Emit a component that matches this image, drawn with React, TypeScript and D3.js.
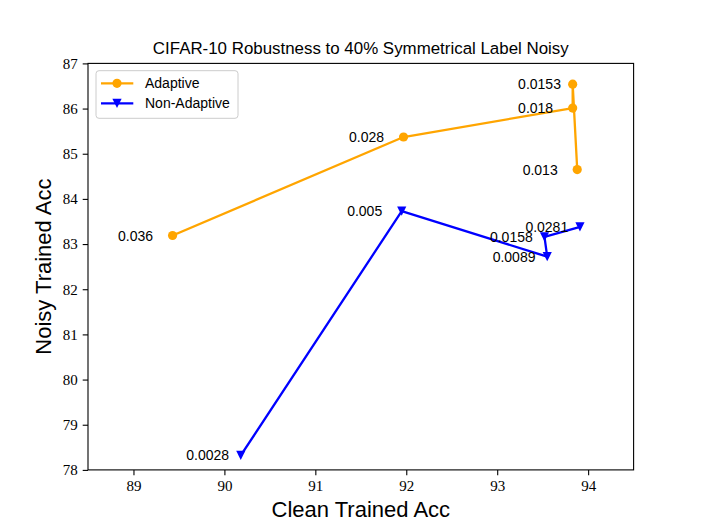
import { useEffect, useRef } from "react";
import * as d3 from "d3";

// Adaptive series
const adaptiveX: number[] = [89.43, 91.97, 93.83, 93.83, 93.88];
const adaptiveY: number[] = [83.19, 85.37, 86.01, 86.54, 84.65];
const adaptiveLabels: string[] = ["0.036", "0.028", "0.018", "0.0153", "0.013"];

// Non-Adaptive series
const nonAdaptiveX: number[] = [90.18, 91.95, 93.55, 93.52, 93.91];
const nonAdaptiveY: number[] = [78.32, 83.73, 82.72, 83.16, 83.38];
const nonAdaptiveLabels: string[] = ["0.0028", "0.005", "0.0089", "0.0158", "0.0281"];

const xTicks: number[] = [89, 90, 91, 92, 93, 94];
const yTicks: number[] = [78, 79, 80, 81, 82, 83, 84, 85, 86, 87];

function App() {
  const svgRef = useRef<SVGSVGElement>(null);

  useEffect(() => {
    if (!svgRef.current) return;
    const svg = d3.select(svgRef.current);
    svg.selectAll("*").remove();

    const width = 704;
    const height = 528;
    svg.attr("width", width).attr("height", height);

    const margin = { top: 63.4, left: 88, right: 70.4, bottom: 58.1 };
    const innerWidth = width - margin.left - margin.right;
    const innerHeight = height - margin.top - margin.bottom;

    const x = d3.scaleLinear().domain([88.5, 94.5]).range([0, innerWidth]);
    const y = d3.scaleLinear().domain([78, 87]).range([innerHeight, 0]);

    svg.append("rect").attr("width", width).attr("height", height).attr("fill", "white");

    const g = svg.append("g").attr("transform", `translate(${margin.left},${margin.top})`);

    const sans = "'Liberation Sans', Arial, sans-serif";
    const serif = "'Liberation Serif', 'Times New Roman', serif";

    // axes
    const xAxis = g
      .append("g")
      .attr("transform", `translate(0,${innerHeight})`)
      .call(d3.axisBottom(x).tickValues(xTicks).tickSize(5.3).tickPadding(5).tickSizeOuter(0).tickFormat(d3.format("d")));
    const yAxis = g
      .append("g")
      .call(d3.axisLeft(y).tickValues(yTicks).tickSize(5.3).tickPadding(5).tickSizeOuter(0).tickFormat(d3.format("d")));
    [xAxis, yAxis].forEach((a) => {
      a.select(".domain").remove();
      a.selectAll("line").attr("stroke", "black").attr("stroke-width", 1.1);
      a.selectAll("text").attr("font-family", serif).attr("font-size", 15).attr("fill", "black");
    });

    // series
    const series = [
      { name: "Adaptive", xs: adaptiveX, ys: adaptiveY, labels: adaptiveLabels, color: "orange", marker: "circle" },
      { name: "Non-Adaptive", xs: nonAdaptiveX, ys: nonAdaptiveY, labels: nonAdaptiveLabels, color: "blue", marker: "tri" },
    ];

    // downward triangle marker
    const tri = (cx: number, cy: number, s: number) =>
      `M${cx},${cy + s}L${cx - s},${cy - s}L${cx + s},${cy - s}Z`;

    const drawMarker = (sel: any, kind: string, cx: number, cy: number, color: string) => {
      if (kind === "circle") {
        sel.append("circle").attr("cx", cx).attr("cy", cy).attr("r", 4.6).attr("fill", color);
      } else {
        sel.append("path").attr("d", tri(cx, cy, 4.6)).attr("fill", color);
      }
    };

    series.forEach((s) => {
      const pts = s.xs.map((v, i) => [x(v), y(s.ys[i])] as [number, number]);
      g.append("path")
        .attr("d", d3.line()(pts))
        .attr("fill", "none")
        .attr("stroke", s.color)
        .attr("stroke-width", 2.3)
        .attr("stroke-linejoin", "round")
        .attr("stroke-linecap", "square");
      const mg = g.append("g");
      pts.forEach(([px, py]) => drawMarker(mg, s.marker, px, py, s.color));
      g.selectAll(null)
        .data(s.labels)
        .join("text")
        .attr("x", (_, i) => x(s.xs[i] - 0.6))
        .attr("y", (_, i) => y(s.ys[i]))
        .attr("dy", "0.36em")
        .attr("font-family", sans)
        .attr("font-size", 14)
        .attr("fill", "black")
        .text((d) => d);
    });

    // spines
    g.append("rect")
      .attr("width", innerWidth)
      .attr("height", innerHeight)
      .attr("fill", "none")
      .attr("stroke", "black")
      .attr("stroke-width", 1.1);

    // legend
    const lg = g.append("g").attr("transform", "translate(8,7.3)");
    lg.append("rect")
      .attr("width", 142)
      .attr("height", 47.6)
      .attr("rx", 3)
      .attr("fill", "white")
      .attr("fill-opacity", 0.8)
      .attr("stroke", "#cccccc")
      .attr("stroke-width", 1);
    series.forEach((s, i) => {
      const ly = 12.6 + i * 20;
      lg.append("line")
        .attr("x1", 5)
        .attr("x2", 37.3)
        .attr("y1", ly)
        .attr("y2", ly)
        .attr("stroke", s.color)
        .attr("stroke-width", 2.3);
      drawMarker(lg, s.marker, 21, ly, s.color);
      lg.append("text")
        .attr("x", 49)
        .attr("y", ly)
        .attr("dy", "0.36em")
        .attr("font-family", sans)
        .attr("font-size", 14)
        .attr("fill", "black")
        .text(s.name);
    });

    // title and axis labels
    svg.append("text")
      .attr("x", margin.left + innerWidth / 2)
      .attr("y", 54)
      .attr("text-anchor", "middle")
      .attr("font-family", sans)
      .attr("font-size", 16.9)
      .attr("fill", "black")
      .text("CIFAR-10 Robustness to 40% Symmetrical Label Noisy");

    svg.append("text")
      .attr("x", margin.left + innerWidth / 2)
      .attr("y", 517)
      .attr("text-anchor", "middle")
      .attr("font-family", sans)
      .attr("font-size", 22)
      .attr("fill", "black")
      .text("Clean Trained Acc");

    svg.append("text")
      .attr("transform", `translate(51,${margin.top + innerHeight / 2}) rotate(-90)`)
      .attr("text-anchor", "middle")
      .attr("font-family", sans)
      .attr("font-size", 22)
      .attr("fill", "black")
      .text("Noisy Trained Acc");
  }, []);

  return <svg ref={svgRef} style={{ position: "absolute", left: 0, top: 0 }}></svg>;
}

export default App;
